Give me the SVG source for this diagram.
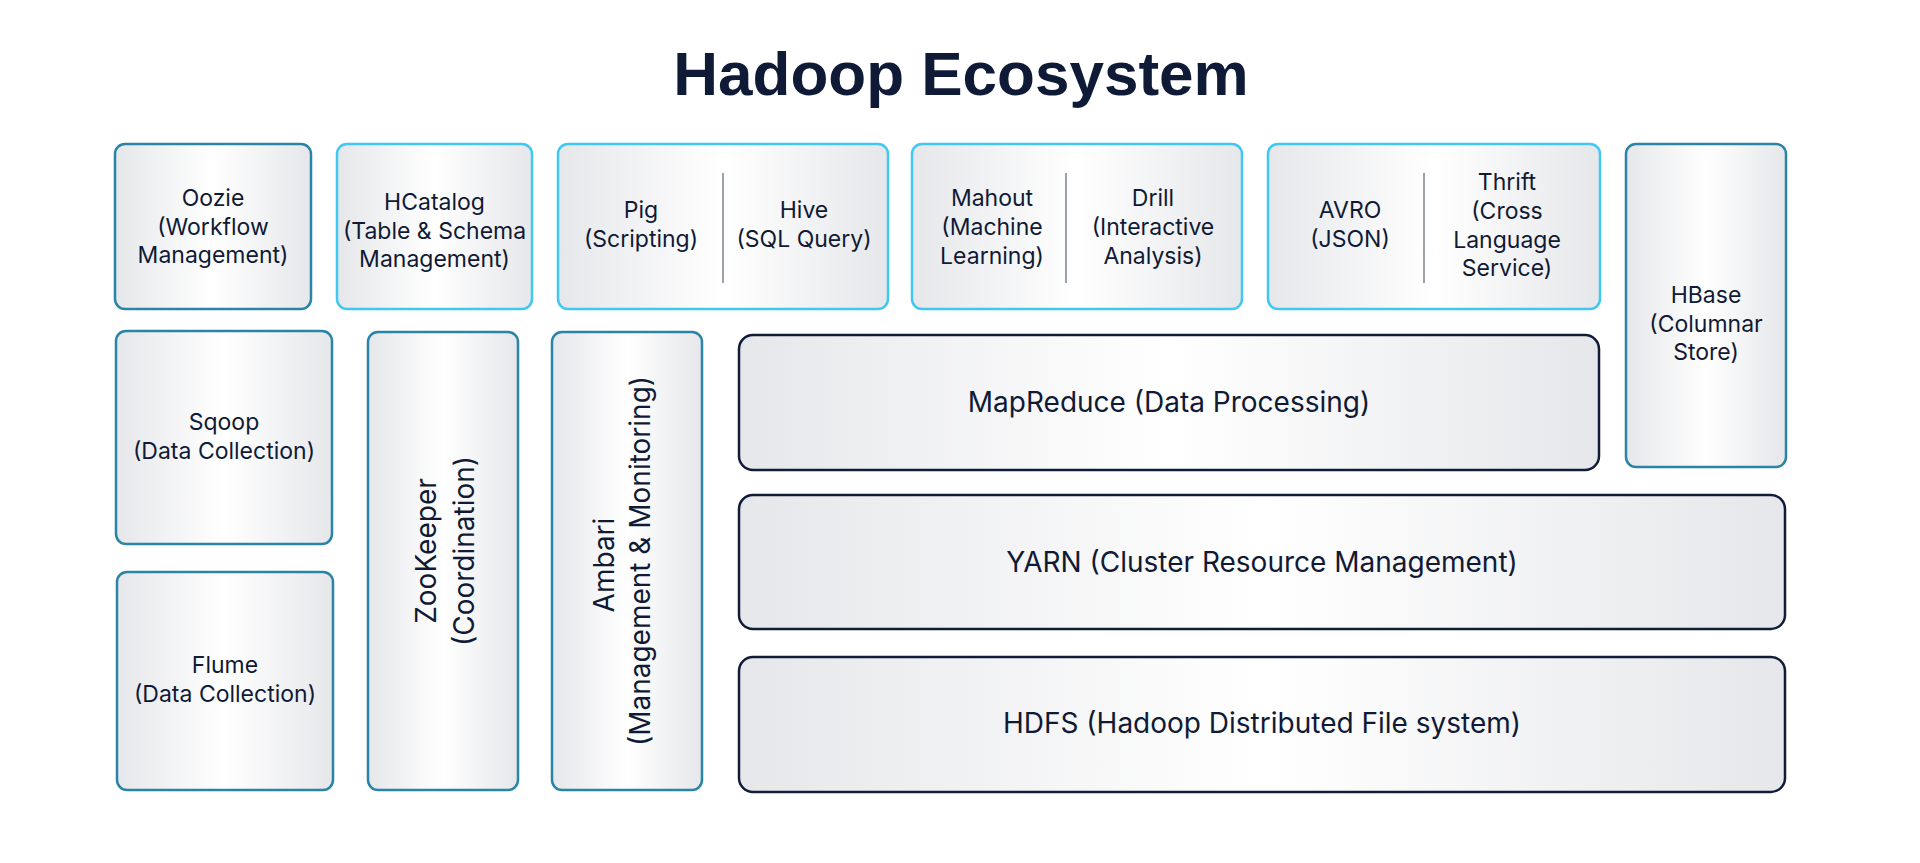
<svg xmlns="http://www.w3.org/2000/svg" width="1920" height="863" viewBox="0 0 1920 863">
<defs>
<linearGradient id="g" x1="0" y1="0" x2="1" y2="0">
<stop offset="0" stop-color="#e6e7ea"/>
<stop offset="0.5" stop-color="#ffffff"/>
<stop offset="1" stop-color="#e6e7ea"/>
</linearGradient>
</defs>
<style>
.box{fill:url(#g);stroke-width:2.5}
.teal{stroke:#2a84a6}
.cyan{stroke:#3fc8f2}
.navy{stroke:#111c38}
.t{font-family:Inter,"Liberation Sans",sans-serif;font-size:23px;fill:#101a35;text-anchor:middle}
.b{font-family:Inter,"Liberation Sans",sans-serif;font-size:28px;fill:#101a35;text-anchor:middle}
.title{font-family:"Liberation Sans",Arial,sans-serif;font-weight:bold;font-size:62px;fill:#0e1a36;text-anchor:middle}
.div{stroke:#7d828f;stroke-width:1.5}
</style>
<rect width="1920" height="863" fill="#ffffff"/>
<text class="title" x="961" y="95">Hadoop Ecosystem</text>

<g id="oozie">
<rect class="box teal" x="115" y="144" width="196" height="165" rx="10"/>
<text class="t" x="213" y="206">Oozie</text>
<text class="t" x="213" y="234.5">(Workflow</text>
<text class="t" x="213" y="263">Management)</text>
</g>
<g id="hcatalog">
<rect class="box cyan" x="337" y="144" width="195" height="165" rx="10"/>
<text class="t" x="434.5" y="210">HCatalog</text>
<text class="t" x="434.5" y="238.5">(Table &amp; Schema</text>
<text class="t" x="434.5" y="267">Management)</text>
</g>
<g id="pig-hive">
<rect class="box cyan" x="558" y="144" width="330" height="165" rx="10"/>
<line class="div" x1="723" y1="173" x2="723" y2="283"/>
<text class="t" x="641" y="218">Pig</text>
<text class="t" x="641" y="246.5">(Scripting)</text>
<text class="t" x="804" y="218">Hive</text>
<text class="t" x="804" y="246.5">(SQL Query)</text>
</g>
<g id="mahout-drill">
<rect class="box cyan" x="912" y="144" width="330" height="165" rx="10"/>
<line class="div" x1="1066" y1="173" x2="1066" y2="283"/>
<text class="t" x="992" y="206">Mahout</text>
<text class="t" x="992" y="235">(Machine</text>
<text class="t" x="992" y="264">Learning)</text>
<text class="t" x="1153" y="206">Drill</text>
<text class="t" x="1153" y="235">(Interactive</text>
<text class="t" x="1153" y="264">Analysis)</text>
</g>
<g id="avro-thrift">
<rect class="box cyan" x="1268" y="144" width="332" height="165" rx="10"/>
<line class="div" x1="1424" y1="173" x2="1424" y2="283"/>
<text class="t" x="1350" y="218">AVRO</text>
<text class="t" x="1350" y="247">(JSON)</text>
<text class="t" x="1507" y="190">Thrift</text>
<text class="t" x="1507" y="218.5">(Cross</text>
<text class="t" x="1507" y="247.5">Language</text>
<text class="t" x="1507" y="276">Service)</text>
</g>
<g id="hbase">
<rect class="box teal" x="1626" y="144" width="160" height="323" rx="10"/>
<text class="t" x="1706" y="303">HBase</text>
<text class="t" x="1706" y="332">(Columnar</text>
<text class="t" x="1706" y="360">Store)</text>
</g>
<g id="sqoop">
<rect class="box teal" x="116" y="331" width="216" height="213" rx="10"/>
<text class="t" x="224" y="430">Sqoop</text>
<text class="t" x="224" y="458.5">(Data Collection)</text>
</g>
<g id="flume">
<rect class="box teal" x="117" y="572" width="216" height="218" rx="10"/>
<text class="t" x="225" y="673">Flume</text>
<text class="t" x="225" y="702">(Data Collection)</text>
</g>
<g id="zookeeper">
<rect class="box teal" x="368" y="332" width="150" height="458" rx="10"/>
<text class="b" transform="translate(436,551) rotate(-90)">ZooKeeper</text>
<text class="b" transform="translate(474,551) rotate(-90)">(Coordination)</text>
</g>
<g id="ambari">
<rect class="box teal" x="552" y="332" width="150" height="458" rx="10"/>
<text class="b" transform="translate(614,565) rotate(-90)">Ambari</text>
<text class="b" transform="translate(650,561) rotate(-90)">(Management &amp; Monitoring)</text>
</g>
<g id="mapreduce">
<rect class="box navy" x="739" y="335" width="860" height="135" rx="14"/>
<text class="b" x="1169" y="412">MapReduce (Data Processing)</text>
</g>
<g id="yarn">
<rect class="box navy" x="739" y="495" width="1046" height="134" rx="14"/>
<text class="b" x="1262" y="572">YARN (Cluster Resource Management)</text>
</g>
<g id="hdfs">
<rect class="box navy" x="739" y="657" width="1046" height="135" rx="14"/>
<text class="b" x="1262" y="733">HDFS (Hadoop Distributed File system)</text>
</g>
<g id="connectors"></g>
</svg>
